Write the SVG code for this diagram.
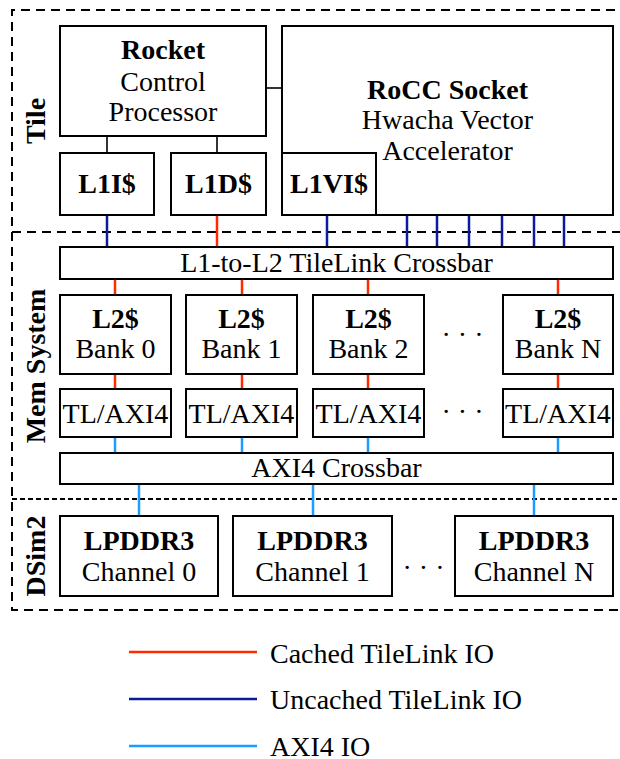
<svg xmlns="http://www.w3.org/2000/svg" width="620" height="759" viewBox="0 0 620 759">
<style>
text{font-family:"Liberation Serif","Times New Roman",serif;font-size:28px;fill:#000;text-anchor:middle}
.b{font-weight:bold}
.box{fill:#fff;stroke:#000;stroke-width:2}
.dash{fill:none;stroke:#000;stroke-width:2;stroke-dasharray:9 6}
.k{stroke:#000;stroke-width:1.6}
.r{stroke:#ff2a00;stroke-width:2.5}
.u{stroke:#0a1c9c;stroke-width:2.5}
.a{stroke:#1a9dff;stroke-width:2.5}
.dots{letter-spacing:7px}
</style>
<rect width="620" height="759" fill="#fff"/>
<g id="regions">
<path class="dash" d="M630 10 H12 V610 H630"/>
<line class="dash" x1="12" y1="232" x2="630" y2="232"/>
<line class="dash" x1="12" y1="499" x2="630" y2="499" style="stroke-dasharray:5 3"/>
<text class="b" transform="translate(45 121) rotate(-90)">Tile</text>
<text class="b" transform="translate(45 366) rotate(-90)">Mem System</text>
<text class="b" transform="translate(45 556) rotate(-90)">DSim2</text>
</g>
<g id="connectors">
<line class="k" x1="107" y1="136" x2="107" y2="153"/>
<line class="k" x1="217" y1="136" x2="217" y2="153"/>
<line class="k" x1="266" y1="88" x2="282" y2="88"/>
<line class="u" x1="107" y1="215" x2="107" y2="248"/>
<line class="r" x1="217" y1="215" x2="217" y2="248"/>
<line class="u" x1="327" y1="215" x2="327" y2="248"/>
<line class="u" x1="407" y1="215" x2="407" y2="248"/>
<line class="u" x1="437" y1="215" x2="437" y2="248"/>
<line class="u" x1="469" y1="215" x2="469" y2="248"/>
<line class="u" x1="502" y1="215" x2="502" y2="248"/>
<line class="u" x1="534" y1="215" x2="534" y2="248"/>
<line class="u" x1="564" y1="215" x2="564" y2="248"/>
<line class="r" x1="115" y1="279" x2="115" y2="295"/>
<line class="r" x1="242" y1="279" x2="242" y2="295"/>
<line class="r" x1="368" y1="279" x2="368" y2="295"/>
<line class="r" x1="558" y1="279" x2="558" y2="295"/>
<line class="r" x1="115" y1="374" x2="115" y2="389"/>
<line class="r" x1="242" y1="374" x2="242" y2="389"/>
<line class="r" x1="368" y1="374" x2="368" y2="389"/>
<line class="r" x1="558" y1="374" x2="558" y2="389"/>
<line class="a" x1="115" y1="437" x2="115" y2="453"/>
<line class="a" x1="242" y1="437" x2="242" y2="453"/>
<line class="a" x1="368" y1="437" x2="368" y2="453"/>
<line class="a" x1="558" y1="437" x2="558" y2="453"/>
<line class="a" x1="139" y1="484" x2="139" y2="516"/>
<line class="a" x1="313" y1="484" x2="313" y2="516"/>
<line class="a" x1="534" y1="484" x2="534" y2="516"/>
</g>
<g id="rocket"><rect class="box" x="60" y="26" width="206" height="110"/>
<text class="b" x="163" y="59">Rocket</text><text x="163" y="91">Control</text><text x="163" y="121">Processor</text></g>
<g id="rocc"><rect class="box" x="282" y="26" width="331" height="189"/>
<text class="b" x="447.5" y="99">RoCC Socket</text><text x="447.5" y="129">Hwacha Vector</text><text x="447.5" y="160">Accelerator</text></g>
<g id="l1i"><rect class="box" x="60" y="153" width="94" height="62"/><text class="b" x="107" y="193">L1I$</text></g>
<g id="l1d"><rect class="box" x="171" y="153" width="95" height="62"/><text class="b" x="218.5" y="193">L1D$</text></g>
<g id="l1vi"><rect class="box" x="282" y="153" width="94" height="62"/><text class="b" x="329" y="193">L1VI$</text></g>
<g id="tlxbar"><rect class="box" x="60" y="247" width="553" height="32"/><text x="336.5" y="272">L1-to-L2 TileLink Crossbar</text></g>
<g id="l2b0"><rect class="box" x="60" y="295" width="111" height="79"/><text class="b" x="115.5" y="328">L2$</text><text x="115.5" y="358">Bank 0</text></g>
<g id="l2b1"><rect class="box" x="186" y="295" width="111" height="79"/><text class="b" x="241.5" y="328">L2$</text><text x="241.5" y="358">Bank 1</text></g>
<g id="l2b2"><rect class="box" x="313" y="295" width="111" height="79"/><text class="b" x="368.5" y="328">L2$</text><text x="368.5" y="358">Bank 2</text></g>
<g id="l2bn"><rect class="box" x="503" y="295" width="110" height="79"/><text class="b" x="558" y="328">L2$</text><text x="558" y="358">Bank N</text></g>
<g id="ta0"><rect class="box" x="60" y="389" width="111" height="48"/><text x="115.5" y="423">TL/AXI4</text></g>
<g id="ta1"><rect class="box" x="186" y="389" width="111" height="48"/><text x="241.5" y="423">TL/AXI4</text></g>
<g id="ta2"><rect class="box" x="313" y="389" width="111" height="48"/><text x="368.5" y="423">TL/AXI4</text></g>
<g id="tan"><rect class="box" x="503" y="389" width="110" height="48"/><text x="558" y="423">TL/AXI4</text></g>
<g id="axixbar"><rect class="box" x="60" y="453" width="553" height="31"/><text x="336.5" y="477">AXI4 Crossbar</text></g>
<g id="ch0"><rect class="box" x="60" y="516" width="158" height="80"/><text class="b" x="139" y="550">LPDDR3</text><text x="139" y="581">Channel 0</text></g>
<g id="ch1"><rect class="box" x="233" y="516" width="159" height="80"/><text class="b" x="312.5" y="550">LPDDR3</text><text x="312.5" y="581">Channel 1</text></g>
<g id="chn"><rect class="box" x="455" y="516" width="158" height="80"/><text class="b" x="534" y="550">LPDDR3</text><text x="534" y="581">Channel N</text></g>
<g id="ellipses">
<text class="dots" x="466" y="344">···</text>
<text class="dots" x="466" y="421">···</text>
<text class="dots" x="427" y="577">···</text>
</g>
<g id="legend">
<line class="r" x1="129" y1="652" x2="257" y2="652"/>
<line class="u" x1="129" y1="699" x2="257" y2="699"/>
<line class="a" x1="129" y1="746" x2="257" y2="746"/>
<text x="270" y="663" style="text-anchor:start">Cached TileLink IO</text>
<text x="270" y="709" style="text-anchor:start">Uncached TileLink IO</text>
<text x="270" y="756" style="text-anchor:start">AXI4 IO</text>
</g>
</svg>
